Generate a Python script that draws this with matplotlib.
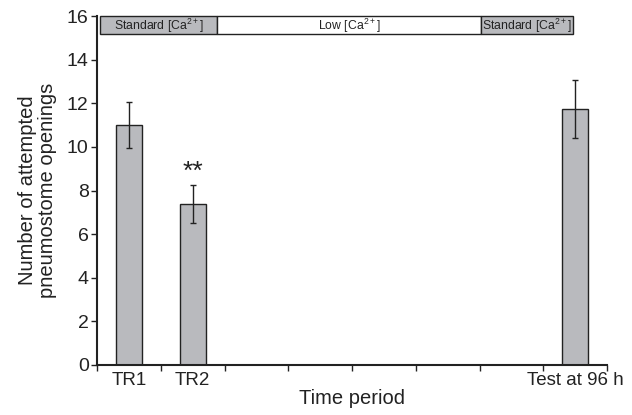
import matplotlib

matplotlib.use("Agg")
import matplotlib.pyplot as plt  # noqa: E402
from matplotlib.patches import Rectangle  # noqa: E402

plt.rcParams["font.family"] = ["Liberation Sans", "DejaVu Sans"]
plt.rcParams["mathtext.fontset"] = "custom"
plt.rcParams["mathtext.rm"] = "Liberation Sans"
plt.rcParams["mathtext.it"] = "Liberation Sans:italic"

# bar data (slot centres on an 8-slot axis)
labels = ["TR1", "TR2", "Test at 96 h"]
positions = [0.5, 1.5, 7.5]
means = [11.0, 7.4, 11.75]
errors = [1.05, 0.87, 1.32]

# treatment band across the top
band_labels = ["Standard [Ca$^{2+}$]", "Low [Ca$^{2+}$]", "Standard [Ca$^{2+}$]"]
band_starts = [0.05, 1.88, 6.03]
band_ends = [1.88, 6.03, 7.46]
band_colors = ["#b9babe", "white", "#b9babe"]

BAR_GREY = "#b9babe"
INK = "#222222"

fig = plt.figure(figsize=(6.32, 4.15), dpi=100)
ax = fig.add_axes([0.1535, 0.1205, 0.807, 0.8409])

ax.bar(positions, means, width=0.41, color=BAR_GREY, edgecolor=INK,
       linewidth=1.0, zorder=2)
ax.errorbar(positions, means, yerr=errors, fmt="none", ecolor=INK,
            elinewidth=1.0, capsize=2.5, capthick=1.0, zorder=3)
ax.text(positions[1], means[1] + errors[1] + 0.05, "**", ha="center",
        va="bottom", fontsize=19, color=INK)

for lab, x0, x1, c in zip(band_labels, band_starts, band_ends, band_colors):
    ax.add_patch(Rectangle((x0, 15.18), x1 - x0, 0.82, facecolor=c,
                           edgecolor=INK, linewidth=1.0, clip_on=False,
                           zorder=4))
    ax.text((x0 + x1) / 2, 15.56, lab, ha="center", va="center", fontsize=8.8,
            color=INK, zorder=5)

ax.set_xlim(0, 8)
ax.set_ylim(0, 16)
ax.set_xticks(range(9))
ax.set_xticklabels([])
ax.set_xticks(positions, minor=True)
ax.set_xticklabels(labels, minor=True, fontsize=13.5, color=INK)
ax.tick_params(axis="x", which="minor", length=0, pad=5)
ax.tick_params(axis="x", which="major", length=4, width=1, direction="out",
               color=INK)
ax.set_yticks(range(0, 17, 2))
ax.tick_params(axis="y", length=4, width=1, direction="out", labelsize=14,
               pad=2, color=INK, labelcolor=INK)

ax.spines["top"].set_visible(False)
ax.spines["right"].set_visible(False)
ax.spines["left"].set_linewidth(1.5)
ax.spines["bottom"].set_linewidth(1.5)
ax.spines["left"].set_color(INK)
ax.spines["bottom"].set_color(INK)

ax.set_xlabel("Time period", fontsize=14.5, labelpad=0, color=INK)
ax.set_ylabel("Number of attempted\npneumostome openings", fontsize=14.5,
              labelpad=7, linespacing=1.1, color=INK)

fig.savefig("out.png", dpi=100)
